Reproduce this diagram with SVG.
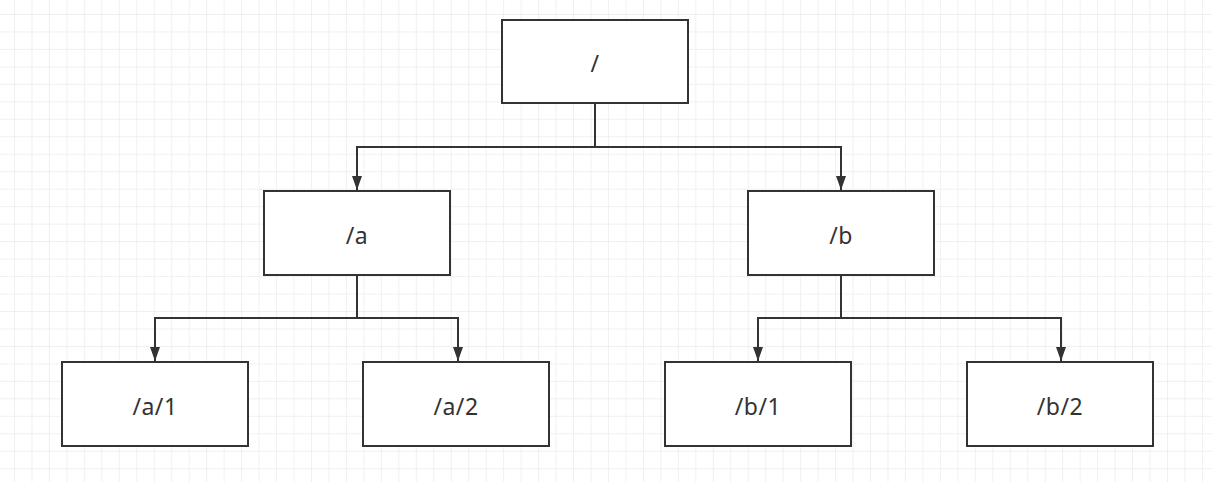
<svg xmlns="http://www.w3.org/2000/svg" width="1212" height="482" viewBox="0 0 1212 482">
  <defs>
    <pattern id="minor" x="14" y="14" width="17.47" height="17.47" patternUnits="userSpaceOnUse">
      <path d="M0 0H17.47M0 0V17.47" fill="none" stroke="#ececec" stroke-width="1.5"/>
    </pattern>
    <marker id="arrow" viewBox="0 0 14 10" refX="14" refY="5" markerWidth="14" markerHeight="10" markerUnits="userSpaceOnUse" orient="auto">
      <path d="M0 0L14 5L0 10Z" fill="#333"/>
    </marker>
  </defs>
  <style>
    .box { fill: #fff; stroke: #333; stroke-width: 2; }
    .lbl { font-family: "Noto Sans", "Noto Sans CJK SC", sans-serif; font-size: 23px; letter-spacing: 0.5px; fill: #333; text-anchor: middle; dominant-baseline: central; }
    .edge { fill: none; stroke: #333; stroke-width: 2; }
  </style>
  <rect width="1212" height="482" fill="#fff"/>
  <rect width="1212" height="482" fill="url(#minor)"/>
  <g id="connectors">
    <path class="edge" d="M595 103V147H357V190" marker-end="url(#arrow)"/>
    <path class="edge" d="M595 147H841V190" marker-end="url(#arrow)"/>
    <path class="edge" d="M357 275V318H155V361" marker-end="url(#arrow)"/>
    <path class="edge" d="M357 318H458V361" marker-end="url(#arrow)"/>
    <path class="edge" d="M841 275V318H758V361" marker-end="url(#arrow)"/>
    <path class="edge" d="M841 318H1061V361" marker-end="url(#arrow)"/>
  </g>
  <g id="node-root"><rect class="box" x="502" y="20" width="186" height="83"/><text class="lbl" x="595" y="63">/</text></g>
  <g id="node-a"><rect class="box" x="264" y="191" width="186" height="84"/><text class="lbl" x="357" y="235">/a</text></g>
  <g id="node-b"><rect class="box" x="748" y="191" width="186" height="84"/><text class="lbl" x="841" y="235">/b</text></g>
  <g id="node-a1"><rect class="box" x="62" y="362" width="186" height="84"/><text class="lbl" x="155" y="406">/a/1</text></g>
  <g id="node-a2"><rect class="box" x="363" y="362" width="186" height="84"/><text class="lbl" x="456" y="406">/a/2</text></g>
  <g id="node-b1"><rect class="box" x="665" y="362" width="186" height="84"/><text class="lbl" x="758" y="406">/b/1</text></g>
  <g id="node-b2"><rect class="box" x="967" y="362" width="186" height="84"/><text class="lbl" x="1060" y="406">/b/2</text></g>
</svg>
